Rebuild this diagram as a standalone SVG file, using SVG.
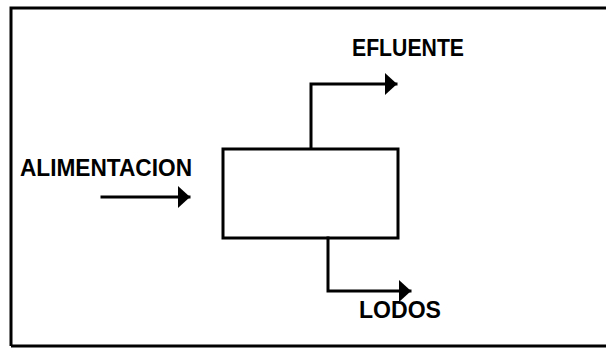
<svg xmlns="http://www.w3.org/2000/svg" width="606" height="352" viewBox="0 0 606 352">
<defs>
<style>
.ln{fill:none;stroke:#000;stroke-width:3;stroke-linecap:square;stroke-linejoin:miter}
.lbl{font-family:"Liberation Sans",Arial,sans-serif;font-weight:bold;font-size:24px;fill:#000}
</style>
<marker id="ah" viewBox="0 0 12 22" refX="11" refY="11" markerWidth="12" markerHeight="22" markerUnits="userSpaceOnUse" orient="auto">
<path d="M0,0 L12,11 L0,22 Z" fill="#000"/>
</marker>
</defs>
<rect width="606" height="352" fill="#fff"/>
<g id="frame">
<path d="M11,346 L11,8 L612,8 M11,346 L612,346" fill="none" stroke="#000" stroke-width="3"/>
</g>
<g id="tank">
<rect x="223" y="149" width="175" height="89" class="ln"/>
</g>
<g id="connectors">
<path d="M102,197 L189,197" class="ln" marker-end="url(#ah)"/>
<path d="M311,148 L311,84 L396,84" class="ln" marker-end="url(#ah)"/>
<path d="M328,238 L328,291 L410,291" class="ln" marker-end="url(#ah)"/>
</g>
<g id="labels">
<text class="lbl" x="20" y="176" textLength="172" lengthAdjust="spacingAndGlyphs">ALIMENTACION</text>
<text class="lbl" x="352" y="56" textLength="112" lengthAdjust="spacingAndGlyphs">EFLUENTE</text>
<text class="lbl" x="359" y="318" textLength="82" lengthAdjust="spacingAndGlyphs">LODOS</text>
</g>
</svg>
